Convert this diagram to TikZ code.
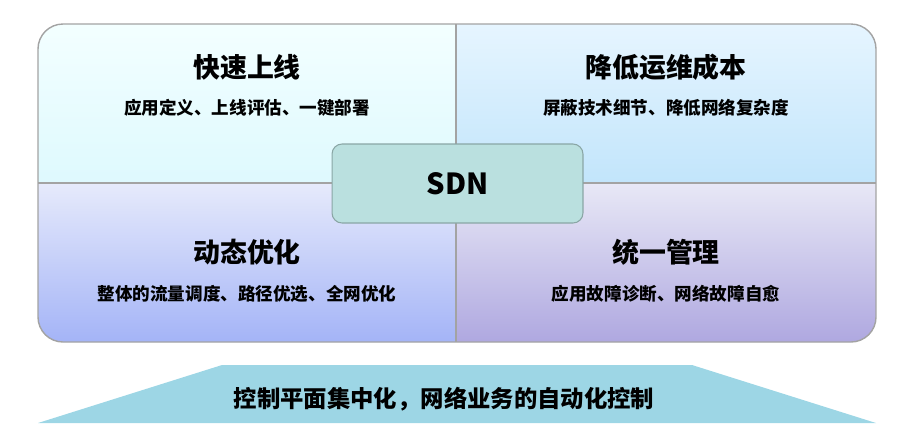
\documentclass[tikz,border=0pt]{standalone}
\usepackage{fontspec}
\newfontfamily\cjk{Noto Sans CJK SC}
\usepackage{tikz}
\usetikzlibrary{positioning}
\definecolor{frame}{HTML}{A3A3A3}
\definecolor{quickA}{HTML}{F3FFFF}
\definecolor{quickB}{HTML}{DEF9FE}
\definecolor{costA}{HTML}{E6F5FF}
\definecolor{costB}{HTML}{C2E5FB}
\definecolor{optA}{HTML}{E6EAFB}
\definecolor{optB}{HTML}{A4B4F7}
\definecolor{mgmtA}{HTML}{E8E8F6}
\definecolor{mgmtB}{HTML}{AFA8E0}
\definecolor{sdnfill}{HTML}{BAE0DF}
\definecolor{sdnline}{HTML}{8AA6A5}
\definecolor{base}{HTML}{9DD6E5}

\begin{document}
\begin{tikzpicture}[x=0.02cm,y=-0.02cm,
  title/.style={font=\cjk\bfseries\fontsize{15.3}{18}\selectfont},
  sub/.style={font=\cjk\bfseries\fontsize{10}{12}\selectfont},
  sdnbox/.style={draw=sdnline,fill=sdnfill,rounded corners=0.2cm,line width=0.6pt}]
  \useasboundingbox (0,0) rectangle (915,441);
  % four quadrants
  \begin{scope}
    \clip[rounded corners=0.5cm] (38,24) rectangle (876,342);
    \shade[top color=quickA,bottom color=quickB] (38,24) rectangle (456,183);
    \shade[top color=costA,bottom color=costB] (456,24) rectangle (876,183);
    \shade[top color=optA,bottom color=optB] (38,183) rectangle (456,342);
    \shade[top color=mgmtA,bottom color=mgmtB] (456,183) rectangle (876,342);
  \end{scope}
  \draw[frame,line width=0.6pt] (456,24)--(456,342) (38,183)--(876,183);
  \draw[frame,line width=0.8pt,rounded corners=0.5cm] (38,24) rectangle (876,342);
  % base
  \fill[base] (222,365)--(692,365)--(876,423)--(38,423)--cycle;
  \node[font=\cjk\bfseries\fontsize{13.3}{16}\selectfont] (basetxt) at (444,399) {控制平面集中化，网络业务的自动化控制};
  % texts
  \node[title] (quick) at (247,67.5) {快速上线};
  \node[sub] (quicksub) at (247,107.5) {应用定义、上线评估、一键部署};
  \node[title] (cost) at (666,67.5) {降低运维成本};
  \node[sub] (costsub) at (666,107.5) {屏蔽技术细节、降低网络复杂度};
  \node[title] (optim) at (247,252.5) {动态优化};
  \node[sub] (optimsub) at (247,294) {整体的流量调度、路径优选、全网优化};
  \node[title] (mgmt) at (666,252.5) {统一管理};
  \node[sub] (mgmtsub) at (666,293.5) {应用故障诊断、网络故障自愈};
  % center
  \node[sdnbox,minimum width=5.02cm,minimum height=1.58cm,font=\cjk\bfseries\fontsize{16.5}{19}\selectfont] (sdn) at (457.5,183.5) {SDN};
\end{tikzpicture}
\end{document}
